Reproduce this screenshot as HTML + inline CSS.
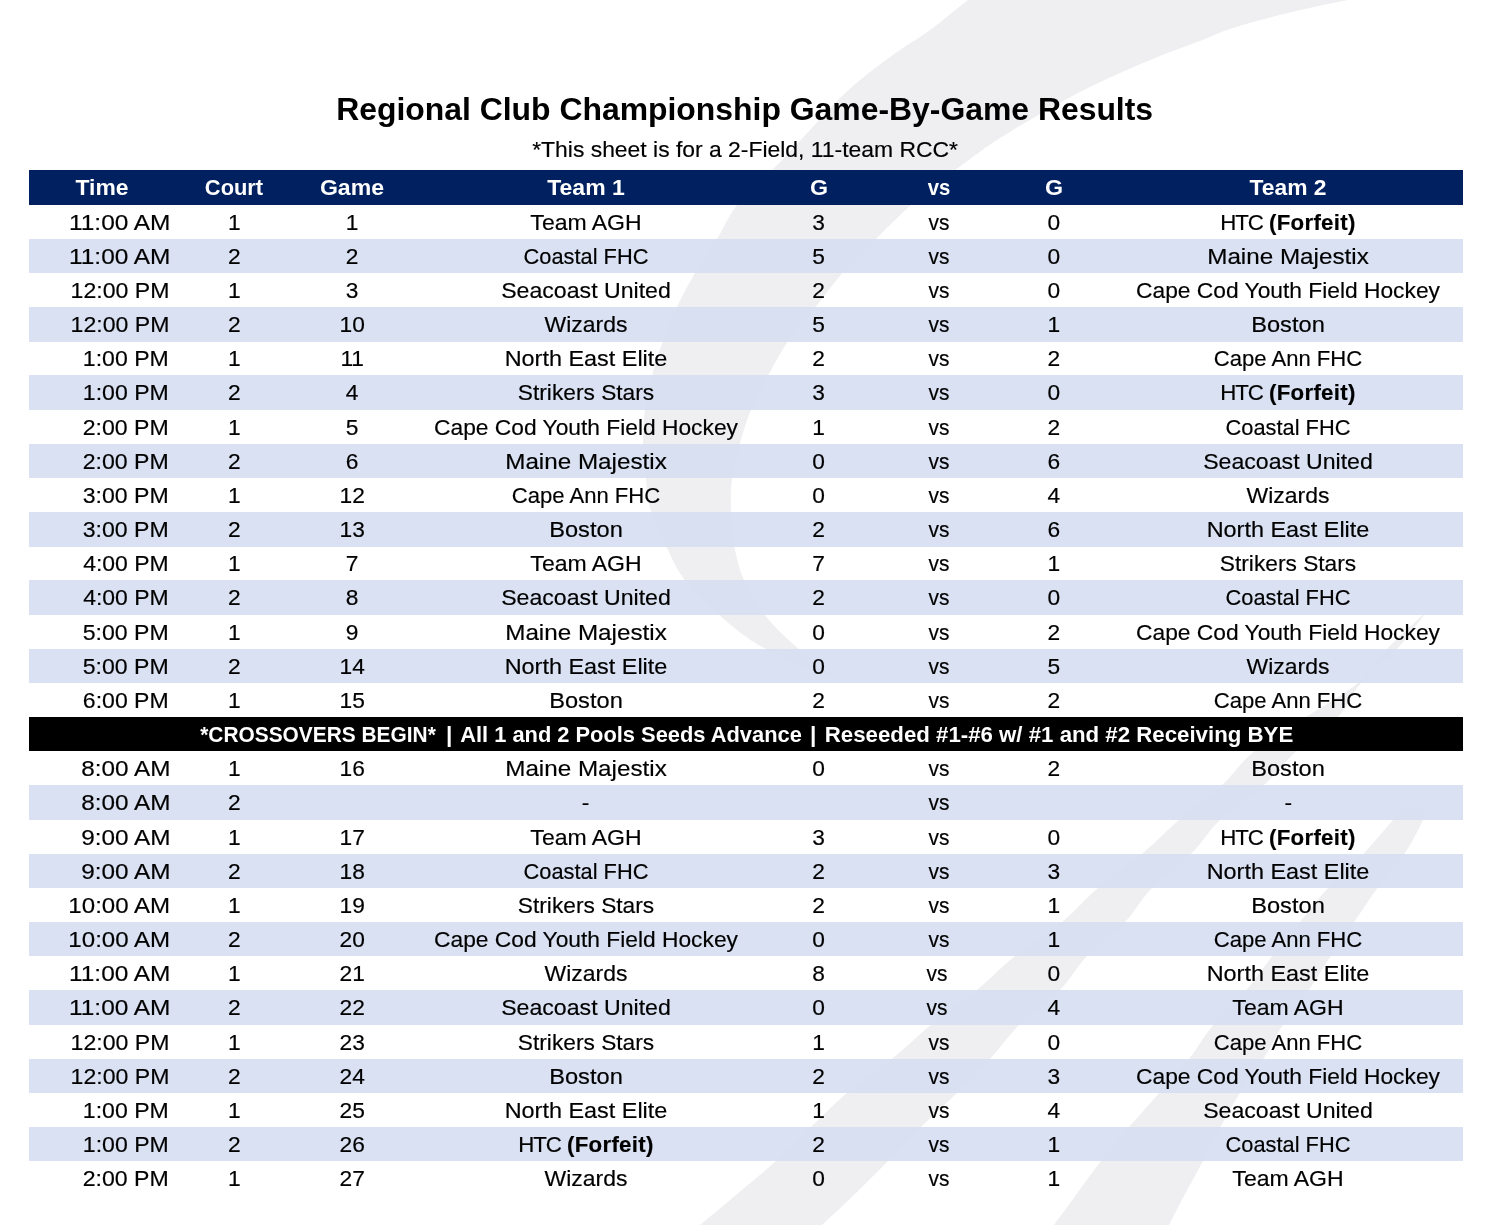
<!DOCTYPE html>
<html><head><meta charset="utf-8"><title>Regional Club Championship Game-By-Game Results</title>
<style>
html,body{margin:0;padding:0;background:#fff;}
body{width:1500px;height:1225px;position:relative;overflow:hidden;font-family:"Liberation Sans",sans-serif;color:#000;}
#pg{position:absolute;left:0;top:0;width:1500px;height:1225px;will-change:transform;}
.row{-webkit-text-stroke:0.18px #000;position:absolute;left:29.0px;width:1433.7px;height:34.46px;line-height:35.37px;font-size:22.75px;white-space:nowrap;}
.row.alt{background:rgba(214,223,241,0.93);}
.row.hd{background:#002060;color:#fff;font-weight:bold;-webkit-text-stroke:0;}
.row.xo{background:#000;color:#fff;font-weight:bold;-webkit-text-stroke:0;}
.c{position:absolute;top:0;margin-left:-29.0px;display:inline-block;white-space:pre;}
.c.r{margin-left:0;margin-right:-37.3px;}
.title{position:absolute;left:0;width:1500px;text-align:center;white-space:nowrap;}
.title span{display:inline-block;}
#t1{top:88.8px;font-size:31.6px;font-weight:bold;line-height:40px;}
#t2{top:133px;font-size:22.75px;line-height:32px;-webkit-text-stroke:0.18px #000;}
svg.wm{position:absolute;left:0;top:0;width:1500px;height:1225px;pointer-events:none;}
</style></head>
<body>
<div id="pg">
<svg class="wm" viewBox="0 0 1500 1225" width="1500" height="1225">
<g fill="#efeff1">
<path d="M990.0,-16.0 C986.3,-13.3 978.0,-7.7 968.0,0.0 C958.0,7.7 941.3,21.7 930.0,30.0 C918.7,38.3 910.0,43.0 900.0,50.0 C890.0,57.0 880.0,64.0 870.0,72.0 C860.0,80.0 850.0,88.3 840.0,98.0 C830.0,107.7 819.3,120.0 810.0,130.0 C800.7,140.0 790.7,151.0 784.0,158.0 C777.3,165.0 777.8,164.2 770.0,172.0 C762.2,179.8 745.8,193.8 737.0,205.0 C728.2,216.2 724.0,227.7 717.0,239.0 C710.0,250.3 701.7,261.7 695.0,273.0 C688.3,284.3 682.3,295.7 677.0,307.0 C671.7,318.3 667.2,329.5 663.0,341.0 C658.8,352.5 655.0,364.5 652.0,376.0 C649.0,387.5 646.5,398.8 645.0,410.0 C643.5,421.2 642.8,431.5 643.0,443.0 C643.2,454.5 644.7,467.7 646.0,479.0 C647.3,490.3 647.6,499.8 651.0,511.0 C654.4,522.2 660.8,534.9 666.4,546.4 C672.0,557.9 676.0,568.6 684.8,580.0 C693.6,591.4 706.0,603.6 719.2,614.9 C732.4,626.2 744.2,637.1 764.0,648.0 C783.8,658.9 825.7,674.7 838.0,680.0 L838.0,680.0 C831.3,674.7 809.8,658.9 797.6,648.0 C785.4,637.1 773.7,626.2 764.8,614.9 C755.9,603.6 749.1,591.4 744.0,580.0 C738.9,568.6 736.6,557.9 734.4,546.4 C732.2,534.9 731.4,522.2 731.0,511.0 C730.6,499.8 730.5,490.3 732.0,479.0 C733.5,467.7 736.8,454.5 740.0,443.0 C743.2,431.5 746.3,421.2 751.0,410.0 C755.7,398.8 761.8,387.5 768.0,376.0 C774.2,364.5 780.2,352.4 788.0,341.0 C795.8,329.6 806.0,318.9 815.0,307.6 C824.0,296.4 831.7,285.1 842.0,273.5 C852.3,261.9 865.5,249.4 877.0,238.0 C888.5,226.6 900.3,214.5 911.0,205.0 C921.7,195.5 931.2,188.7 941.0,181.0 C950.8,173.3 960.2,166.2 970.0,159.0 C979.8,151.8 988.3,145.5 1000.0,138.0 C1011.7,130.5 1026.7,121.7 1040.0,114.0 C1053.3,106.3 1066.7,98.8 1080.0,92.0 C1093.3,85.2 1106.7,79.0 1120.0,73.0 C1133.3,67.0 1146.7,61.3 1160.0,56.0 C1173.3,50.7 1187.8,45.7 1200.0,41.0 C1212.2,36.3 1218.5,32.6 1233.0,28.0 C1247.5,23.4 1267.8,18.0 1287.0,13.3 C1306.2,8.6 1325.8,4.5 1348.0,0.0 C1370.2,-4.5 1408.0,-11.7 1420.0,-14.0 Z"/>
<path d="M1427.0,611.0 C1420.5,617.2 1399.5,636.0 1388.0,648.0 C1376.5,660.0 1371.7,671.5 1358.0,683.0 C1344.3,694.5 1323.3,705.6 1306.0,717.0 C1288.7,728.4 1268.0,740.3 1254.0,751.6 C1240.0,762.9 1234.5,773.6 1222.0,785.0 C1209.5,796.4 1192.2,808.7 1179.0,820.0 C1165.8,831.3 1156.5,841.7 1143.0,853.0 C1129.5,864.3 1111.5,876.5 1098.0,888.0 C1084.5,899.5 1075.8,910.7 1062.0,922.0 C1048.2,933.3 1029.2,944.7 1015.0,956.0 C1000.8,967.3 990.8,978.7 977.0,990.0 C963.2,1001.3 946.0,1012.7 932.0,1024.0 C918.0,1035.3 907.0,1046.7 893.0,1058.0 C879.0,1069.3 861.5,1080.7 848.0,1092.0 C834.5,1103.3 824.0,1114.5 812.0,1126.0 C800.0,1137.5 788.7,1149.5 776.0,1161.0 C763.3,1172.5 748.7,1184.3 736.0,1195.0 C723.3,1205.7 710.0,1216.7 700.0,1225.0 C690.0,1233.3 680.0,1241.7 676.0,1245.0 L802.0,1245.0 C805.3,1241.7 813.3,1233.3 822.0,1225.0 C830.7,1216.7 843.0,1205.7 854.0,1195.0 C865.0,1184.3 876.7,1172.5 888.0,1161.0 C899.3,1149.5 910.3,1137.5 922.0,1126.0 C933.7,1114.5 946.5,1103.3 958.0,1092.0 C969.5,1080.7 980.7,1069.3 991.0,1058.0 C1001.3,1046.7 1008.5,1035.3 1020.0,1024.0 C1031.5,1012.7 1048.8,1001.3 1060.0,990.0 C1071.2,978.7 1076.2,967.3 1087.0,956.0 C1097.8,944.7 1114.2,933.3 1125.0,922.0 C1135.8,910.7 1140.8,899.5 1152.0,888.0 C1163.2,876.5 1180.7,864.3 1192.0,853.0 C1203.3,841.7 1208.0,831.3 1220.0,820.0 C1232.0,808.7 1251.3,796.4 1264.0,785.0 C1276.7,773.6 1283.7,762.9 1296.0,751.6 C1308.3,740.3 1327.2,728.4 1338.0,717.0 C1348.8,705.6 1351.0,694.5 1361.0,683.0 C1371.0,671.5 1387.0,660.0 1398.0,648.0 C1409.0,636.0 1422.2,617.2 1427.0,611.0 Z"/>
<path d="M1404.0,808.0 C1402.2,810.0 1399.7,812.5 1393.0,820.0 C1386.3,827.5 1374.8,841.7 1364.0,853.0 C1353.2,864.3 1338.7,876.5 1328.0,888.0 C1317.3,899.5 1309.3,910.6 1300.0,922.0 C1290.7,933.4 1280.9,945.1 1272.0,956.4 C1263.1,967.7 1256.1,978.7 1246.4,990.0 C1236.7,1001.3 1223.1,1013.1 1213.6,1024.4 C1204.1,1035.7 1198.5,1046.7 1189.6,1058.0 C1180.7,1069.3 1169.9,1080.7 1160.0,1092.0 C1150.1,1103.3 1139.8,1114.5 1130.0,1126.0 C1120.2,1137.5 1110.0,1149.5 1101.0,1161.0 C1092.0,1172.5 1083.8,1184.3 1076.0,1195.0 C1068.2,1205.7 1060.0,1216.7 1054.0,1225.0 C1048.0,1233.3 1042.3,1241.7 1040.0,1245.0 L1158.0,1245.0 C1159.8,1241.7 1164.5,1233.5 1169.0,1225.0 C1173.5,1216.5 1179.3,1204.7 1185.0,1194.0 C1190.7,1183.3 1197.0,1172.3 1203.0,1161.0 C1209.0,1149.7 1214.8,1137.3 1221.0,1126.0 C1227.2,1114.7 1232.8,1104.3 1240.0,1093.0 C1247.2,1081.7 1256.8,1069.4 1264.0,1058.0 C1271.2,1046.6 1275.7,1035.7 1283.2,1024.4 C1290.7,1013.1 1300.9,1001.3 1308.8,990.0 C1316.7,978.7 1322.7,967.9 1330.4,956.4 C1338.1,944.9 1347.2,932.4 1355.0,921.0 C1362.8,909.6 1369.2,899.3 1377.5,888.0 C1385.8,876.7 1397.4,864.3 1405.0,853.0 C1412.6,841.7 1419.7,826.8 1423.0,820.0 C1426.3,813.2 1425.8,814.3 1425.0,812.0 C1424.2,809.7 1419.2,807.0 1418.0,806.0 Z"/>
</g></svg>
<div class="title" id="t1"><span style="transform:translateX(-5px) scaleX(1.0094)">Regional Club Championship Game-By-Game Results</span></div>
<div class="title" id="t2"><span style="transform:translateX(-4.5px) scaleX(1.0063)">*This sheet is for a 2-Field, 11-team RCC*</span></div>
<div class="row hd" style="top:170.40px"><span class="c h" style="left:102.1px;transform:translateX(-50%) scaleX(1.0054)">Time</span><span class="c h" style="left:234.4px;transform:translateX(-50%) scaleX(0.9605)">Court</span><span class="c h" style="left:352.2px;transform:translateX(-50%) scaleX(1.0150)">Game</span><span class="c h" style="left:585.5px;transform:translateX(-50%) scaleX(1.0118)">Team 1</span><span class="c h" style="left:818.7px;transform:translateX(-50%) scaleX(1.0203)">G</span><span class="c h" style="left:939.3px;transform:translateX(-50%) scaleX(0.8929)">vs</span><span class="c h" style="left:1053.8px;transform:translateX(-50%) scaleX(1.0203)">G</span><span class="c h" style="left:1288.3px;transform:translateX(-50%) scaleX(1.0037)">Team 2</span></div>
<div class="row " style="top:204.56px"><span class="c r " style="right:1329.7px;transform-origin:100% 50%;transform:scaleX(1.0742)">11:00 AM</span><span class="c " style="left:234.4px;transform:translateX(-50%) scaleX(1.0000)">1</span><span class="c " style="left:352.2px;transform:translateX(-50%) scaleX(1.0000)">1</span><span class="c " style="left:585.5px;transform:translateX(-50%) scaleX(1.0114)">Team AGH</span><span class="c " style="left:818.7px;transform:translateX(-50%) scaleX(1.0000)">3</span><span class="c " style="left:939.3px;transform:translateX(-50%) scaleX(0.9201)">vs</span><span class="c " style="left:1053.8px;transform:translateX(-50%) scaleX(1.0000)">0</span><span class="c " style="left:1288.3px;transform:translateX(-50%) scaleX(0.9771)"><span style="letter-spacing:-1.1px">HTC</span> <b style="letter-spacing:.3px">(Forfeit)</b></span></div>
<div class="row alt" style="top:238.73px"><span class="c r " style="right:1329.7px;transform-origin:100% 50%;transform:scaleX(1.0742)">11:00 AM</span><span class="c " style="left:234.4px;transform:translateX(-50%) scaleX(1.0000)">2</span><span class="c " style="left:352.2px;transform:translateX(-50%) scaleX(1.0000)">2</span><span class="c " style="left:585.5px;transform:translateX(-50%) scaleX(0.9584)">Coastal FHC</span><span class="c " style="left:818.7px;transform:translateX(-50%) scaleX(1.0000)">5</span><span class="c " style="left:939.3px;transform:translateX(-50%) scaleX(0.9201)">vs</span><span class="c " style="left:1053.8px;transform:translateX(-50%) scaleX(1.0000)">0</span><span class="c " style="left:1288.3px;transform:translateX(-50%) scaleX(1.0649)">Maine Majestix</span></div>
<div class="row " style="top:272.89px"><span class="c r " style="right:1331.0px;transform-origin:100% 50%;transform:scaleX(1.0143)">12:00 PM</span><span class="c " style="left:234.4px;transform:translateX(-50%) scaleX(1.0000)">1</span><span class="c " style="left:352.2px;transform:translateX(-50%) scaleX(1.0000)">3</span><span class="c " style="left:585.5px;transform:translateX(-50%) scaleX(1.0165)">Seacoast United</span><span class="c " style="left:818.7px;transform:translateX(-50%) scaleX(1.0000)">2</span><span class="c " style="left:939.3px;transform:translateX(-50%) scaleX(0.9201)">vs</span><span class="c " style="left:1053.8px;transform:translateX(-50%) scaleX(1.0000)">0</span><span class="c " style="left:1288.3px;transform:translateX(-50%) scaleX(1.0013)">Cape Cod Youth Field Hockey</span></div>
<div class="row alt" style="top:307.06px"><span class="c r " style="right:1331.0px;transform-origin:100% 50%;transform:scaleX(1.0143)">12:00 PM</span><span class="c " style="left:234.4px;transform:translateX(-50%) scaleX(1.0000)">2</span><span class="c " style="left:352.2px;transform:translateX(-50%) scaleX(1.0000)">10</span><span class="c " style="left:585.5px;transform:translateX(-50%) scaleX(1.0086)">Wizards</span><span class="c " style="left:818.7px;transform:translateX(-50%) scaleX(1.0000)">5</span><span class="c " style="left:939.3px;transform:translateX(-50%) scaleX(0.9201)">vs</span><span class="c " style="left:1053.8px;transform:translateX(-50%) scaleX(1.0000)">1</span><span class="c " style="left:1288.3px;transform:translateX(-50%) scaleX(1.0392)">Boston</span></div>
<div class="row " style="top:341.23px"><span class="c r " style="right:1331.0px;transform-origin:100% 50%;transform:scaleX(1.0137)">1:00 PM</span><span class="c " style="left:234.4px;transform:translateX(-50%) scaleX(1.0000)">1</span><span class="c " style="left:352.2px;transform:translateX(-50%) scaleX(1.0000)">11</span><span class="c " style="left:585.5px;transform:translateX(-50%) scaleX(1.0289)">North East Elite</span><span class="c " style="left:818.7px;transform:translateX(-50%) scaleX(1.0000)">2</span><span class="c " style="left:939.3px;transform:translateX(-50%) scaleX(0.9201)">vs</span><span class="c " style="left:1053.8px;transform:translateX(-50%) scaleX(1.0000)">2</span><span class="c " style="left:1288.3px;transform:translateX(-50%) scaleX(0.9699)">Cape Ann FHC</span></div>
<div class="row alt" style="top:375.39px"><span class="c r " style="right:1331.0px;transform-origin:100% 50%;transform:scaleX(1.0137)">1:00 PM</span><span class="c " style="left:234.4px;transform:translateX(-50%) scaleX(1.0000)">2</span><span class="c " style="left:352.2px;transform:translateX(-50%) scaleX(1.0000)">4</span><span class="c " style="left:585.5px;transform:translateX(-50%) scaleX(0.9990)">Strikers Stars</span><span class="c " style="left:818.7px;transform:translateX(-50%) scaleX(1.0000)">3</span><span class="c " style="left:939.3px;transform:translateX(-50%) scaleX(0.9201)">vs</span><span class="c " style="left:1053.8px;transform:translateX(-50%) scaleX(1.0000)">0</span><span class="c " style="left:1288.3px;transform:translateX(-50%) scaleX(0.9771)"><span style="letter-spacing:-1.1px">HTC</span> <b style="letter-spacing:.3px">(Forfeit)</b></span></div>
<div class="row " style="top:409.56px"><span class="c r " style="right:1331.0px;transform-origin:100% 50%;transform:scaleX(1.0152)">2:00 PM</span><span class="c " style="left:234.4px;transform:translateX(-50%) scaleX(1.0000)">1</span><span class="c " style="left:352.2px;transform:translateX(-50%) scaleX(1.0000)">5</span><span class="c " style="left:585.5px;transform:translateX(-50%) scaleX(1.0013)">Cape Cod Youth Field Hockey</span><span class="c " style="left:818.7px;transform:translateX(-50%) scaleX(1.0000)">1</span><span class="c " style="left:939.3px;transform:translateX(-50%) scaleX(0.9201)">vs</span><span class="c " style="left:1053.8px;transform:translateX(-50%) scaleX(1.0000)">2</span><span class="c " style="left:1288.3px;transform:translateX(-50%) scaleX(0.9584)">Coastal FHC</span></div>
<div class="row alt" style="top:443.72px"><span class="c r " style="right:1331.0px;transform-origin:100% 50%;transform:scaleX(1.0152)">2:00 PM</span><span class="c " style="left:234.4px;transform:translateX(-50%) scaleX(1.0000)">2</span><span class="c " style="left:352.2px;transform:translateX(-50%) scaleX(1.0000)">6</span><span class="c " style="left:585.5px;transform:translateX(-50%) scaleX(1.0649)">Maine Majestix</span><span class="c " style="left:818.7px;transform:translateX(-50%) scaleX(1.0000)">0</span><span class="c " style="left:939.3px;transform:translateX(-50%) scaleX(0.9201)">vs</span><span class="c " style="left:1053.8px;transform:translateX(-50%) scaleX(1.0000)">6</span><span class="c " style="left:1288.3px;transform:translateX(-50%) scaleX(1.0165)">Seacoast United</span></div>
<div class="row " style="top:477.89px"><span class="c r " style="right:1331.0px;transform-origin:100% 50%;transform:scaleX(1.0147)">3:00 PM</span><span class="c " style="left:234.4px;transform:translateX(-50%) scaleX(1.0000)">1</span><span class="c " style="left:352.2px;transform:translateX(-50%) scaleX(1.0000)">12</span><span class="c " style="left:585.5px;transform:translateX(-50%) scaleX(0.9699)">Cape Ann FHC</span><span class="c " style="left:818.7px;transform:translateX(-50%) scaleX(1.0000)">0</span><span class="c " style="left:939.3px;transform:translateX(-50%) scaleX(0.9201)">vs</span><span class="c " style="left:1053.8px;transform:translateX(-50%) scaleX(1.0000)">4</span><span class="c " style="left:1288.3px;transform:translateX(-50%) scaleX(1.0086)">Wizards</span></div>
<div class="row alt" style="top:512.05px"><span class="c r " style="right:1331.0px;transform-origin:100% 50%;transform:scaleX(1.0147)">3:00 PM</span><span class="c " style="left:234.4px;transform:translateX(-50%) scaleX(1.0000)">2</span><span class="c " style="left:352.2px;transform:translateX(-50%) scaleX(1.0000)">13</span><span class="c " style="left:585.5px;transform:translateX(-50%) scaleX(1.0392)">Boston</span><span class="c " style="left:818.7px;transform:translateX(-50%) scaleX(1.0000)">2</span><span class="c " style="left:939.3px;transform:translateX(-50%) scaleX(0.9201)">vs</span><span class="c " style="left:1053.8px;transform:translateX(-50%) scaleX(1.0000)">6</span><span class="c " style="left:1288.3px;transform:translateX(-50%) scaleX(1.0289)">North East Elite</span></div>
<div class="row " style="top:546.22px"><span class="c r " style="right:1331.0px;transform-origin:100% 50%;transform:scaleX(1.0097)">4:00 PM</span><span class="c " style="left:234.4px;transform:translateX(-50%) scaleX(1.0000)">1</span><span class="c " style="left:352.2px;transform:translateX(-50%) scaleX(1.0000)">7</span><span class="c " style="left:585.5px;transform:translateX(-50%) scaleX(1.0114)">Team AGH</span><span class="c " style="left:818.7px;transform:translateX(-50%) scaleX(1.0000)">7</span><span class="c " style="left:939.3px;transform:translateX(-50%) scaleX(0.9201)">vs</span><span class="c " style="left:1053.8px;transform:translateX(-50%) scaleX(1.0000)">1</span><span class="c " style="left:1288.3px;transform:translateX(-50%) scaleX(0.9990)">Strikers Stars</span></div>
<div class="row alt" style="top:580.38px"><span class="c r " style="right:1331.0px;transform-origin:100% 50%;transform:scaleX(1.0097)">4:00 PM</span><span class="c " style="left:234.4px;transform:translateX(-50%) scaleX(1.0000)">2</span><span class="c " style="left:352.2px;transform:translateX(-50%) scaleX(1.0000)">8</span><span class="c " style="left:585.5px;transform:translateX(-50%) scaleX(1.0165)">Seacoast United</span><span class="c " style="left:818.7px;transform:translateX(-50%) scaleX(1.0000)">2</span><span class="c " style="left:939.3px;transform:translateX(-50%) scaleX(0.9201)">vs</span><span class="c " style="left:1053.8px;transform:translateX(-50%) scaleX(1.0000)">0</span><span class="c " style="left:1288.3px;transform:translateX(-50%) scaleX(0.9584)">Coastal FHC</span></div>
<div class="row " style="top:614.54px"><span class="c r " style="right:1331.0px;transform-origin:100% 50%;transform:scaleX(1.0143)">5:00 PM</span><span class="c " style="left:234.4px;transform:translateX(-50%) scaleX(1.0000)">1</span><span class="c " style="left:352.2px;transform:translateX(-50%) scaleX(1.0000)">9</span><span class="c " style="left:585.5px;transform:translateX(-50%) scaleX(1.0649)">Maine Majestix</span><span class="c " style="left:818.7px;transform:translateX(-50%) scaleX(1.0000)">0</span><span class="c " style="left:939.3px;transform:translateX(-50%) scaleX(0.9201)">vs</span><span class="c " style="left:1053.8px;transform:translateX(-50%) scaleX(1.0000)">2</span><span class="c " style="left:1288.3px;transform:translateX(-50%) scaleX(1.0013)">Cape Cod Youth Field Hockey</span></div>
<div class="row alt" style="top:648.71px"><span class="c r " style="right:1331.0px;transform-origin:100% 50%;transform:scaleX(1.0143)">5:00 PM</span><span class="c " style="left:234.4px;transform:translateX(-50%) scaleX(1.0000)">2</span><span class="c " style="left:352.2px;transform:translateX(-50%) scaleX(1.0000)">14</span><span class="c " style="left:585.5px;transform:translateX(-50%) scaleX(1.0289)">North East Elite</span><span class="c " style="left:818.7px;transform:translateX(-50%) scaleX(1.0000)">0</span><span class="c " style="left:939.3px;transform:translateX(-50%) scaleX(0.9201)">vs</span><span class="c " style="left:1053.8px;transform:translateX(-50%) scaleX(1.0000)">5</span><span class="c " style="left:1288.3px;transform:translateX(-50%) scaleX(1.0086)">Wizards</span></div>
<div class="row " style="top:682.87px"><span class="c r " style="right:1331.0px;transform-origin:100% 50%;transform:scaleX(1.0141)">6:00 PM</span><span class="c " style="left:234.4px;transform:translateX(-50%) scaleX(1.0000)">1</span><span class="c " style="left:352.2px;transform:translateX(-50%) scaleX(1.0000)">15</span><span class="c " style="left:585.5px;transform:translateX(-50%) scaleX(1.0392)">Boston</span><span class="c " style="left:818.7px;transform:translateX(-50%) scaleX(1.0000)">2</span><span class="c " style="left:939.3px;transform:translateX(-50%) scaleX(0.9201)">vs</span><span class="c " style="left:1053.8px;transform:translateX(-50%) scaleX(1.0000)">2</span><span class="c " style="left:1288.3px;transform:translateX(-50%) scaleX(0.9699)">Cape Ann FHC</span></div>
<div class="row xo" style="top:717.04px"><span class="c x" style="left:317.6px;transform:translateX(-50%) scaleX(0.9182)">*CROSSOVERS BEGIN*</span><span class="c x" style="left:449.3px;transform:translateX(-50%) scaleX(1.0000)">|</span><span class="c x" style="left:630.9px;transform:translateX(-50%) scaleX(0.9605)">All 1 and 2 Pools Seeds Advance</span><span class="c x" style="left:813.3px;transform:translateX(-50%) scaleX(1.0000)">|</span><span class="c x" style="left:1059.2px;transform:translateX(-50%) scaleX(0.9775)">Reseeded #1-#6 w/ #1 and #2 Receiving BYE</span></div>
<div class="row " style="top:751.20px"><span class="c r " style="right:1329.7px;transform-origin:100% 50%;transform:scaleX(1.0681)">8:00 AM</span><span class="c " style="left:234.4px;transform:translateX(-50%) scaleX(1.0000)">1</span><span class="c " style="left:352.2px;transform:translateX(-50%) scaleX(1.0000)">16</span><span class="c " style="left:585.5px;transform:translateX(-50%) scaleX(1.0649)">Maine Majestix</span><span class="c " style="left:818.7px;transform:translateX(-50%) scaleX(1.0000)">0</span><span class="c " style="left:939.3px;transform:translateX(-50%) scaleX(0.9201)">vs</span><span class="c " style="left:1053.8px;transform:translateX(-50%) scaleX(1.0000)">2</span><span class="c " style="left:1288.3px;transform:translateX(-50%) scaleX(1.0392)">Boston</span></div>
<div class="row alt" style="top:785.37px"><span class="c r " style="right:1329.7px;transform-origin:100% 50%;transform:scaleX(1.0681)">8:00 AM</span><span class="c " style="left:234.4px;transform:translateX(-50%) scaleX(1.0000)">2</span><span class="c " style="left:585.5px;transform:translateX(-50%) scaleX(1.0000)">-</span><span class="c " style="left:939.3px;transform:translateX(-50%) scaleX(0.9201)">vs</span><span class="c " style="left:1288.3px;transform:translateX(-50%) scaleX(1.0000)">-</span></div>
<div class="row " style="top:819.53px"><span class="c r " style="right:1329.7px;transform-origin:100% 50%;transform:scaleX(1.0693)">9:00 AM</span><span class="c " style="left:234.4px;transform:translateX(-50%) scaleX(1.0000)">1</span><span class="c " style="left:352.2px;transform:translateX(-50%) scaleX(1.0000)">17</span><span class="c " style="left:585.5px;transform:translateX(-50%) scaleX(1.0114)">Team AGH</span><span class="c " style="left:818.7px;transform:translateX(-50%) scaleX(1.0000)">3</span><span class="c " style="left:939.3px;transform:translateX(-50%) scaleX(0.9201)">vs</span><span class="c " style="left:1053.8px;transform:translateX(-50%) scaleX(1.0000)">0</span><span class="c " style="left:1288.3px;transform:translateX(-50%) scaleX(0.9771)"><span style="letter-spacing:-1.1px">HTC</span> <b style="letter-spacing:.3px">(Forfeit)</b></span></div>
<div class="row alt" style="top:853.70px"><span class="c r " style="right:1329.7px;transform-origin:100% 50%;transform:scaleX(1.0693)">9:00 AM</span><span class="c " style="left:234.4px;transform:translateX(-50%) scaleX(1.0000)">2</span><span class="c " style="left:352.2px;transform:translateX(-50%) scaleX(1.0000)">18</span><span class="c " style="left:585.5px;transform:translateX(-50%) scaleX(0.9584)">Coastal FHC</span><span class="c " style="left:818.7px;transform:translateX(-50%) scaleX(1.0000)">2</span><span class="c " style="left:939.3px;transform:translateX(-50%) scaleX(0.9201)">vs</span><span class="c " style="left:1053.8px;transform:translateX(-50%) scaleX(1.0000)">3</span><span class="c " style="left:1288.3px;transform:translateX(-50%) scaleX(1.0289)">North East Elite</span></div>
<div class="row " style="top:887.86px"><span class="c r " style="right:1329.7px;transform-origin:100% 50%;transform:scaleX(1.0588)">10:00 AM</span><span class="c " style="left:234.4px;transform:translateX(-50%) scaleX(1.0000)">1</span><span class="c " style="left:352.2px;transform:translateX(-50%) scaleX(1.0000)">19</span><span class="c " style="left:585.5px;transform:translateX(-50%) scaleX(0.9990)">Strikers Stars</span><span class="c " style="left:818.7px;transform:translateX(-50%) scaleX(1.0000)">2</span><span class="c " style="left:939.3px;transform:translateX(-50%) scaleX(0.9201)">vs</span><span class="c " style="left:1053.8px;transform:translateX(-50%) scaleX(1.0000)">1</span><span class="c " style="left:1288.3px;transform:translateX(-50%) scaleX(1.0392)">Boston</span></div>
<div class="row alt" style="top:922.03px"><span class="c r " style="right:1329.7px;transform-origin:100% 50%;transform:scaleX(1.0588)">10:00 AM</span><span class="c " style="left:234.4px;transform:translateX(-50%) scaleX(1.0000)">2</span><span class="c " style="left:352.2px;transform:translateX(-50%) scaleX(1.0000)">20</span><span class="c " style="left:585.5px;transform:translateX(-50%) scaleX(1.0013)">Cape Cod Youth Field Hockey</span><span class="c " style="left:818.7px;transform:translateX(-50%) scaleX(1.0000)">0</span><span class="c " style="left:939.3px;transform:translateX(-50%) scaleX(0.9201)">vs</span><span class="c " style="left:1053.8px;transform:translateX(-50%) scaleX(1.0000)">1</span><span class="c " style="left:1288.3px;transform:translateX(-50%) scaleX(0.9699)">Cape Ann FHC</span></div>
<div class="row " style="top:956.19px"><span class="c r " style="right:1329.7px;transform-origin:100% 50%;transform:scaleX(1.0742)">11:00 AM</span><span class="c " style="left:234.4px;transform:translateX(-50%) scaleX(1.0000)">1</span><span class="c " style="left:352.2px;transform:translateX(-50%) scaleX(1.0000)">21</span><span class="c " style="left:585.5px;transform:translateX(-50%) scaleX(1.0086)">Wizards</span><span class="c " style="left:818.7px;transform:translateX(-50%) scaleX(1.0000)">8</span><span class="c " style="left:936.6px;transform:translateX(-50%) scaleX(0.9201)">vs</span><span class="c " style="left:1053.8px;transform:translateX(-50%) scaleX(1.0000)">0</span><span class="c " style="left:1288.3px;transform:translateX(-50%) scaleX(1.0289)">North East Elite</span></div>
<div class="row alt" style="top:990.36px"><span class="c r " style="right:1329.7px;transform-origin:100% 50%;transform:scaleX(1.0742)">11:00 AM</span><span class="c " style="left:234.4px;transform:translateX(-50%) scaleX(1.0000)">2</span><span class="c " style="left:352.2px;transform:translateX(-50%) scaleX(1.0000)">22</span><span class="c " style="left:585.5px;transform:translateX(-50%) scaleX(1.0165)">Seacoast United</span><span class="c " style="left:818.7px;transform:translateX(-50%) scaleX(1.0000)">0</span><span class="c " style="left:936.6px;transform:translateX(-50%) scaleX(0.9201)">vs</span><span class="c " style="left:1053.8px;transform:translateX(-50%) scaleX(1.0000)">4</span><span class="c " style="left:1288.3px;transform:translateX(-50%) scaleX(1.0114)">Team AGH</span></div>
<div class="row " style="top:1024.52px"><span class="c r " style="right:1331.0px;transform-origin:100% 50%;transform:scaleX(1.0143)">12:00 PM</span><span class="c " style="left:234.4px;transform:translateX(-50%) scaleX(1.0000)">1</span><span class="c " style="left:352.2px;transform:translateX(-50%) scaleX(1.0000)">23</span><span class="c " style="left:585.5px;transform:translateX(-50%) scaleX(0.9990)">Strikers Stars</span><span class="c " style="left:818.7px;transform:translateX(-50%) scaleX(1.0000)">1</span><span class="c " style="left:939.3px;transform:translateX(-50%) scaleX(0.9201)">vs</span><span class="c " style="left:1053.8px;transform:translateX(-50%) scaleX(1.0000)">0</span><span class="c " style="left:1288.3px;transform:translateX(-50%) scaleX(0.9699)">Cape Ann FHC</span></div>
<div class="row alt" style="top:1058.69px"><span class="c r " style="right:1331.0px;transform-origin:100% 50%;transform:scaleX(1.0143)">12:00 PM</span><span class="c " style="left:234.4px;transform:translateX(-50%) scaleX(1.0000)">2</span><span class="c " style="left:352.2px;transform:translateX(-50%) scaleX(1.0000)">24</span><span class="c " style="left:585.5px;transform:translateX(-50%) scaleX(1.0392)">Boston</span><span class="c " style="left:818.7px;transform:translateX(-50%) scaleX(1.0000)">2</span><span class="c " style="left:939.3px;transform:translateX(-50%) scaleX(0.9201)">vs</span><span class="c " style="left:1053.8px;transform:translateX(-50%) scaleX(1.0000)">3</span><span class="c " style="left:1288.3px;transform:translateX(-50%) scaleX(1.0013)">Cape Cod Youth Field Hockey</span></div>
<div class="row " style="top:1092.85px"><span class="c r " style="right:1331.0px;transform-origin:100% 50%;transform:scaleX(1.0137)">1:00 PM</span><span class="c " style="left:234.4px;transform:translateX(-50%) scaleX(1.0000)">1</span><span class="c " style="left:352.2px;transform:translateX(-50%) scaleX(1.0000)">25</span><span class="c " style="left:585.5px;transform:translateX(-50%) scaleX(1.0289)">North East Elite</span><span class="c " style="left:818.7px;transform:translateX(-50%) scaleX(1.0000)">1</span><span class="c " style="left:939.3px;transform:translateX(-50%) scaleX(0.9201)">vs</span><span class="c " style="left:1053.8px;transform:translateX(-50%) scaleX(1.0000)">4</span><span class="c " style="left:1288.3px;transform:translateX(-50%) scaleX(1.0165)">Seacoast United</span></div>
<div class="row alt" style="top:1127.02px"><span class="c r " style="right:1331.0px;transform-origin:100% 50%;transform:scaleX(1.0137)">1:00 PM</span><span class="c " style="left:234.4px;transform:translateX(-50%) scaleX(1.0000)">2</span><span class="c " style="left:352.2px;transform:translateX(-50%) scaleX(1.0000)">26</span><span class="c " style="left:585.5px;transform:translateX(-50%) scaleX(0.9771)"><span style="letter-spacing:-1.1px">HTC</span> <b style="letter-spacing:.3px">(Forfeit)</b></span><span class="c " style="left:818.7px;transform:translateX(-50%) scaleX(1.0000)">2</span><span class="c " style="left:939.3px;transform:translateX(-50%) scaleX(0.9201)">vs</span><span class="c " style="left:1053.8px;transform:translateX(-50%) scaleX(1.0000)">1</span><span class="c " style="left:1288.3px;transform:translateX(-50%) scaleX(0.9584)">Coastal FHC</span></div>
<div class="row " style="top:1161.18px"><span class="c r " style="right:1331.0px;transform-origin:100% 50%;transform:scaleX(1.0152)">2:00 PM</span><span class="c " style="left:234.4px;transform:translateX(-50%) scaleX(1.0000)">1</span><span class="c " style="left:352.2px;transform:translateX(-50%) scaleX(1.0000)">27</span><span class="c " style="left:585.5px;transform:translateX(-50%) scaleX(1.0086)">Wizards</span><span class="c " style="left:818.7px;transform:translateX(-50%) scaleX(1.0000)">0</span><span class="c " style="left:939.3px;transform:translateX(-50%) scaleX(0.9201)">vs</span><span class="c " style="left:1053.8px;transform:translateX(-50%) scaleX(1.0000)">1</span><span class="c " style="left:1288.3px;transform:translateX(-50%) scaleX(1.0114)">Team AGH</span></div>
</div>
</body></html>
